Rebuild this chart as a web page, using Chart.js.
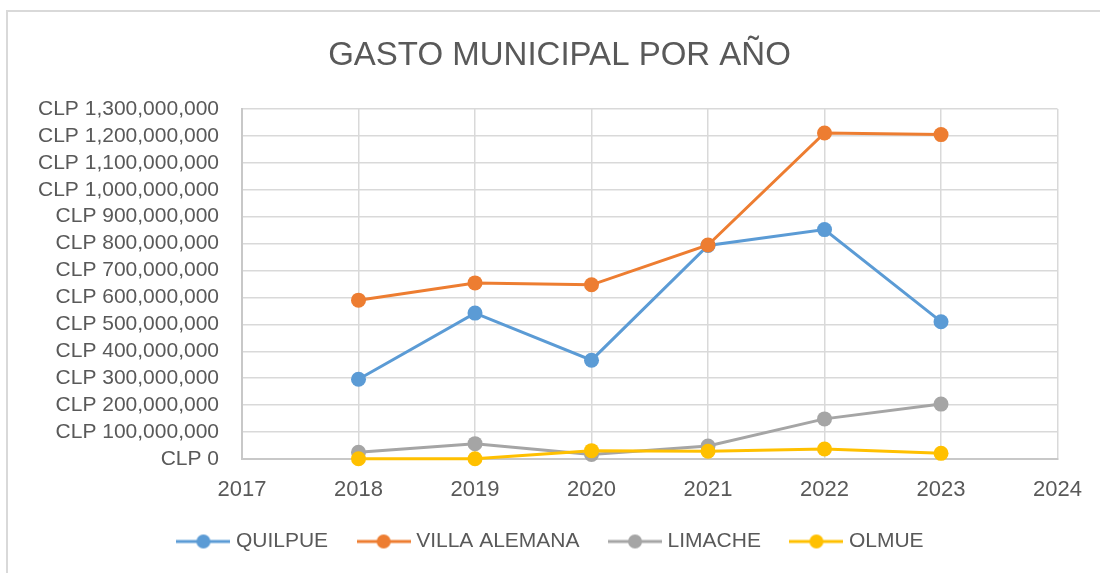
<!DOCTYPE html>
<html>
<head>
<meta charset="utf-8">
<script src="https://cdn.jsdelivr.net/npm/chart.js@4/dist/chart.umd.min.js"></script>
<style>
  html, body { margin: 0; padding: 0; background: #fff; }
  #wrap { position: relative; width: 1100px; height: 573px; overflow: hidden; }
  #frame { position: absolute; left: 6px; top: 10px; width: 1200px; height: 700px;
           border-left: 2px solid #d9d9d9; border-top: 2px solid #d9d9d9; }
  #chart { position: absolute; left: 0; top: 0; }
</style>
</head>
<body>
<div id="wrap">
  <div id="frame"></div>
  <canvas id="chart" width="1100" height="573"></canvas>
</div>
<script>
// ── Daten ────────────────────────────────────────────────────────────────────
const years = [2018, 2019, 2020, 2021, 2022, 2023];
const quilpue = [296000000, 542000000, 367000000, 793000000, 852000000, 510000000];
const villaAlemana = [590000000, 654000000, 647000000, 795000000, 1211000000, 1205000000];
const limache = [25000000, 57000000, 17000000, 48000000, 149000000, 204000000];
const olmue = [1000000, 1000000, 31000000, 29000000, 37000000, 21000000];

const seriesNames = ['QUILPUE', 'VILLA ALEMANA', 'LIMACHE', 'OLMUE'];
const seriesColors = ['#5B9BD5', '#ED7D31', '#A5A5A5', '#FFC000'];
const xMin = 2017, xMax = 2024;
const yMax = 1300000000, yStep = 100000000;

const FONT = '"Liberation Sans", Arial, sans-serif';
const TEXT = '#595959';

// Legend-Marker: Linie mit Punkt
function legendMarker(color) {
  const c = document.createElement('canvas');
  c.width = 54; c.height = 16;
  const g = c.getContext('2d');
  g.strokeStyle = color; g.lineWidth = 3;
  g.beginPath(); g.moveTo(0, 8); g.lineTo(54, 8); g.stroke();
  g.fillStyle = color;
  g.beginPath(); g.arc(27, 8, 7, 0, Math.PI * 2); g.fill();
  return c;
}

function makeDataset(i, values) {
  return {
    label: seriesNames[i],
    data: years.map((y, k) => ({ x: y, y: values[k] })),
    borderColor: seriesColors[i],
    backgroundColor: seriesColors[i],
    borderWidth: 3,
    pointRadius: 7.5,
    pointHoverRadius: 7.5,
    pointBorderWidth: 0,
    pointStyle: 'circle',
    tension: 0,
    clip: false,
    order: 4 - i // spaetere Serie liegt oben (wie Excel)
  };
}

const markers = seriesColors.map(legendMarker);

// Titel + Legende wie in Excel um die Gesamtflaeche zentrieren (nicht um die Canvas-Flaeche links der Achse)
const centerShift = {
  id: 'centerShift',
  afterLayout(chart) {
    const shifts = [[chart.titleBlock, 29], [chart.legend, 22]];
    for (const [box, dx] of shifts) {
      if (!box) continue;
      box.left += dx;
      box.right += dx;
    }
  }
};

new Chart(document.getElementById('chart'), {
  type: 'line',
  data: {
    datasets: [
      makeDataset(0, quilpue),
      makeDataset(1, villaAlemana),
      makeDataset(2, limache),
      makeDataset(3, olmue)
    ]
  },
  plugins: [centerShift],
  options: {
    responsive: false,
    animation: false,
    layout: { padding: { top: 0, left: 0, right: 39, bottom: 11 } },
    plugins: {
      title: {
        display: true,
        text: 'GASTO MUNICIPAL POR AÑO',
        color: TEXT,
        font: { family: FONT, size: 33, weight: 'normal' },
        padding: { top: 36, bottom: 33.4 }
      },
      legend: {
        position: 'bottom',
        labels: {
          usePointStyle: true,
          pointStyleWidth: 44,
          boxHeight: 16,
          padding: 33.5,
          color: TEXT,
          font: { family: FONT, size: 21 },
          sort: (a, b) => a.datasetIndex - b.datasetIndex,
          generateLabels: (chart) => chart.data.datasets.map((ds, i) => ({
            text: ds.label,
            pointStyle: markers[i],
            fillStyle: ds.borderColor,
            strokeStyle: ds.borderColor,
            lineWidth: 0,
            fontColor: TEXT,
            datasetIndex: i,
            hidden: false
          }))
        }
      },
      tooltip: { enabled: false }
    },
    scales: {
      x: {
        type: 'linear',
        min: xMin,
        max: xMax,
        ticks: {
          stepSize: 1,
          autoSkip: false,
          maxRotation: 0,
          color: TEXT,
          padding: 18,
          font: { family: FONT, size: 22 },
          callback: (v) => String(v)
        },
        grid: { color: '#d9d9d9', lineWidth: 1.5, drawTicks: false },
        border: { color: '#c8c8c8', width: 2 },
        afterFit: (scale) => { scale.height = 38.5; }
      },
      y: {
        min: 0,
        max: yMax,
        ticks: {
          stepSize: yStep,
          autoSkip: false,
          color: TEXT,
          padding: 23,
          font: { family: FONT, size: 21 },
          callback: (v) => 'CLP ' + Number(v).toLocaleString('en-US')
        },
        grid: { color: '#d9d9d9', lineWidth: 1.5, drawTicks: false },
        border: { color: '#c8c8c8', width: 2 },
        afterFit: (scale) => { scale.width = 242; }
      }
    }
  }
});
</script>
</body>
</html>
